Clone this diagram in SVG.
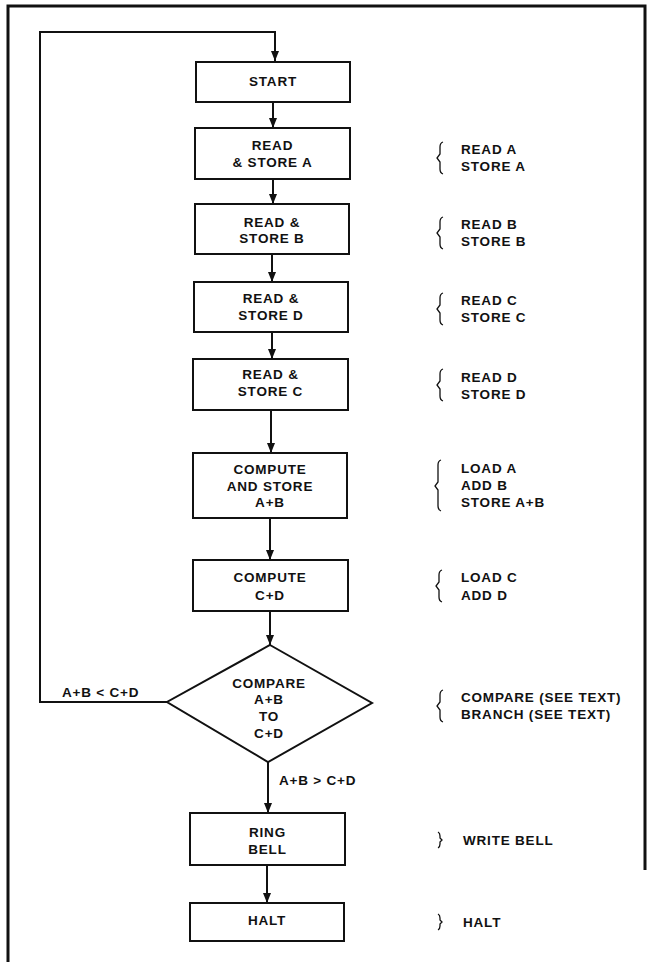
<svg xmlns="http://www.w3.org/2000/svg" width="647" height="962" viewBox="0 0 647 962">
<style>
  .box{fill:#fff;stroke:#111;stroke-width:2}
  .t{font-family:"Liberation Sans",Arial,sans-serif;font-weight:bold;font-size:13.5px;letter-spacing:0.8px;fill:#111}
  .c{text-anchor:middle}
  .ln{fill:none;stroke:#111;stroke-width:2}
  .br{fill:none;stroke:#111;stroke-width:1.3}
</style>
<defs>
  <marker id="ah" viewBox="0 0 10 10" refX="10" refY="5" markerWidth="10" markerHeight="10" markerUnits="userSpaceOnUse" orient="auto">
    <path d="M0,1 L10,5 L0,9 z" fill="#111"/>
  </marker>
</defs>
<rect width="647" height="962" fill="#fff"/>
<g id="frame">
  <path d="M8,962 V6 H645 V870" fill="none" stroke="#111" stroke-width="3"/>
</g>
<g id="connectors">
  <path class="ln" d="M167,702 H40 V32 H275 V61" marker-end="url(#ah)"/>
  <path class="ln" d="M273,102 V128" marker-end="url(#ah)"/>
  <path class="ln" d="M273,179 V204" marker-end="url(#ah)"/>
  <path class="ln" d="M272,254 V282" marker-end="url(#ah)"/>
  <path class="ln" d="M272,332 V359" marker-end="url(#ah)"/>
  <path class="ln" d="M271,410 V453" marker-end="url(#ah)"/>
  <path class="ln" d="M270,518 V560" marker-end="url(#ah)"/>
  <path class="ln" d="M270,611 V645" marker-end="url(#ah)"/>
  <path class="ln" d="M268,762 V813" marker-end="url(#ah)"/>
  <path class="ln" d="M267,865 V903" marker-end="url(#ah)"/>
  <text class="t" x="62" y="697">A+B &lt; C+D</text>
  <text class="t" x="279" y="785">A+B &gt; C+D</text>
</g>
<g id="start">
  <rect class="box" x="196" y="62" width="154" height="40"/>
  <text class="t c" x="273" y="86">START</text>
</g>
<g id="readA">
  <rect class="box" x="195" y="128" width="155" height="51"/>
  <text class="t c" x="272.5" y="150">READ</text>
  <text class="t c" x="272.5" y="167">&amp; STORE A</text>
</g>
<g id="readB">
  <rect class="box" x="195" y="204" width="154" height="50"/>
  <text class="t c" x="272" y="227">READ &amp;</text>
  <text class="t c" x="272" y="243">STORE B</text>
</g>
<g id="readD">
  <rect class="box" x="194" y="282" width="154" height="50"/>
  <text class="t c" x="271" y="303">READ &amp;</text>
  <text class="t c" x="271" y="320">STORE D</text>
</g>
<g id="readC">
  <rect class="box" x="193" y="359" width="155" height="51"/>
  <text class="t c" x="270.5" y="379">READ &amp;</text>
  <text class="t c" x="270.5" y="396">STORE C</text>
</g>
<g id="computeAB">
  <rect class="box" x="193" y="453" width="154" height="65"/>
  <text class="t c" x="270" y="474">COMPUTE</text>
  <text class="t c" x="270" y="491">AND STORE</text>
  <text class="t c" x="270" y="507">A+B</text>
</g>
<g id="computeCD">
  <rect class="box" x="193" y="560" width="155" height="51"/>
  <text class="t c" x="270" y="582">COMPUTE</text>
  <text class="t c" x="270" y="600">C+D</text>
</g>
<g id="compare">
  <polygon class="box" points="270,645 372,703 268,762 167,702"/>
  <text class="t c" x="269" y="687.5">COMPARE</text>
  <text class="t c" x="269" y="704">A+B</text>
  <text class="t c" x="269" y="720.5">TO</text>
  <text class="t c" x="269" y="738">C+D</text>
</g>
<g id="ringBell">
  <rect class="box" x="190" y="813" width="155" height="52"/>
  <text class="t c" x="267.5" y="837">RING</text>
  <text class="t c" x="267.5" y="854">BELL</text>
</g>
<g id="halt">
  <rect class="box" x="190" y="903" width="154" height="38"/>
  <text class="t c" x="267" y="925">HALT</text>
</g>
<g id="notes">
  <path class="br" d="M443,142 Q440,143 440,147 V154 L437,158 L440,162 V169 Q440,173 443,174"/>
  <text class="t" x="461" y="154">READ A</text>
  <text class="t" x="461" y="171">STORE A</text>
  <path class="br" d="M443,217 Q440,218 440,222 V229 L437,233 L440,237 V244 Q440,248 443,249"/>
  <text class="t" x="461" y="229">READ B</text>
  <text class="t" x="461" y="246">STORE B</text>
  <path class="br" d="M443,293 Q440,294 440,298 V305 L437,309 L440,313 V320 Q440,324 443,325"/>
  <text class="t" x="461" y="305">READ C</text>
  <text class="t" x="461" y="322">STORE C</text>
  <path class="br" d="M443,369 Q440,370 440,374 V381 L437,385 L440,389 V396 Q440,400 443,401"/>
  <text class="t" x="461" y="381.5">READ D</text>
  <text class="t" x="461" y="398.5">STORE D</text>
  <path class="br" d="M441,460 Q438,461 438,465 V482 L435,486 L438,490 V506 Q438,510 441,511"/>
  <text class="t" x="461" y="473">LOAD A</text>
  <text class="t" x="461" y="490">ADD B</text>
  <text class="t" x="461" y="507">STORE A+B</text>
  <path class="br" d="M442,570 Q439,571 439,575 V582 L436,586 L439,590 V597 Q439,601 442,602"/>
  <text class="t" x="461" y="582">LOAD C</text>
  <text class="t" x="461" y="600">ADD D</text>
  <path class="br" d="M443,690 Q440,691 440,695 V702 L437,706 L440,710 V717 Q440,721 443,722"/>
  <text class="t" x="461" y="702">COMPARE (SEE TEXT)</text>
  <text class="t" x="461" y="719">BRANCH (SEE TEXT)</text>
  <path class="br" d="M438,832 Q440,833 440,836 V838 L442,840 L440,842 V844 Q440,847 438,848"/>
  <text class="t" x="463" y="845">WRITE BELL</text>
  <path class="br" d="M438,914 Q440,915 440,918 V920 L442,922 L440,924 V926 Q440,929 438,930"/>
  <text class="t" x="463" y="927">HALT</text>
</g>
</svg>
